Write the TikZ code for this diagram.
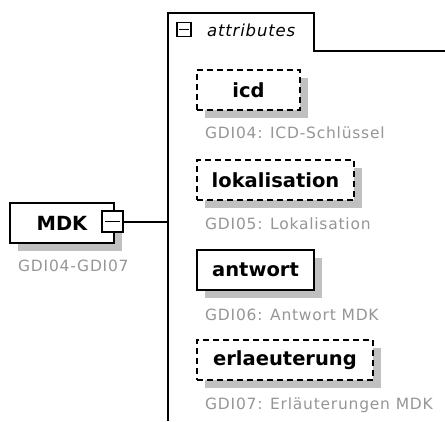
\documentclass[tikz,border=0pt]{standalone}
\usepackage{fontspec}
\setmainfont{DejaVu Sans}
\newfontfamily\notefamily[LetterSpace=5]{DejaVu Sans}
\usetikzlibrary{positioning, shadows}

\definecolor{notegray}{RGB}{150,150,150}
\definecolor{shadowgray}{RGB}{192,192,192}

\newcommand{\elemfont}{\bfseries\fontsize{19.5}{22}\selectfont}
\newcommand{\notefont}{\notefamily\fontsize{15.5}{18}\selectfont}

\tikzset{
  elem/.style={draw=black, line width=2pt, fill=white, font=\elemfont,
    minimum height=40pt, inner sep=0pt, anchor=north west,
    general shadow={fill=shadowgray, shadow xshift=8pt, shadow yshift=-8pt}},
  optelem/.style={elem, dash pattern=on 6pt off 4pt},
  note/.style={font=\notefont, text=notegray, anchor=west, inner sep=0pt},
  collapse/.style={draw=black, line width=1.8pt, fill=white, inner sep=0pt},
  frame/.style={draw=black, line width=2pt},
}

\begin{document}
\begin{tikzpicture}[x=1pt, y=-1pt]
  \useasboundingbox[fill=white] (0,0) rectangle (445,421);

  % attributes frame
  \draw[frame] (168,421) -- (168,13) -- (314,13) -- (314,51) -- (445,51);
  \node[collapse, minimum size=14pt] (attrminus) at (184,29.5) {};
  \draw[line width=1.8pt] ([xshift=3pt]attrminus.west) -- ([xshift=-3pt]attrminus.east);
  \node[anchor=west, inner sep=0pt, font=\notefamily\itshape\fontsize{16.5}{18}\selectfont] (attrlabel) at (207,30) {attributes};

  % parent element
  \node[elem, minimum width=104pt] (mdk) at (9,202) {MDK};
  \node[note] (mdknote) at (18,266) {GDI04-GDI07};
  \node[collapse, minimum size=21pt] (mdkminus) at (112.5,221.5) {};
  \draw[line width=1.8pt] ([xshift=4pt]mdkminus.west) -- ([xshift=-4pt]mdkminus.east);
  \coordinate (bus) at (168,221.5);
  \draw[frame] (mdkminus.east) -- (bus);

  % attributes
  \node[optelem, minimum width=103pt] (icd) at (196,69) {icd};
  \node[note] (icdnote) at (205,133) {GDI04: ICD-Schlüssel};

  \node[optelem, minimum width=157pt] (lokalisation) at (196,159) {lokalisation};
  \node[note] (lokalisationnote) at (205,224) {GDI05: Lokalisation};

  \node[elem, minimum width=117pt] (antwort) at (196,249) {antwort};
  \node[note] (antwortnote) at (205,315) {GDI06: Antwort MDK};

  \node[optelem, minimum width=176pt] (erlaeuterung) at (196,339) {erlaeuterung};
  \node[note] (erlaeuterungnote) at (205,405) {GDI07: Erläuterungen MDK};
\end{tikzpicture}
\end{document}
